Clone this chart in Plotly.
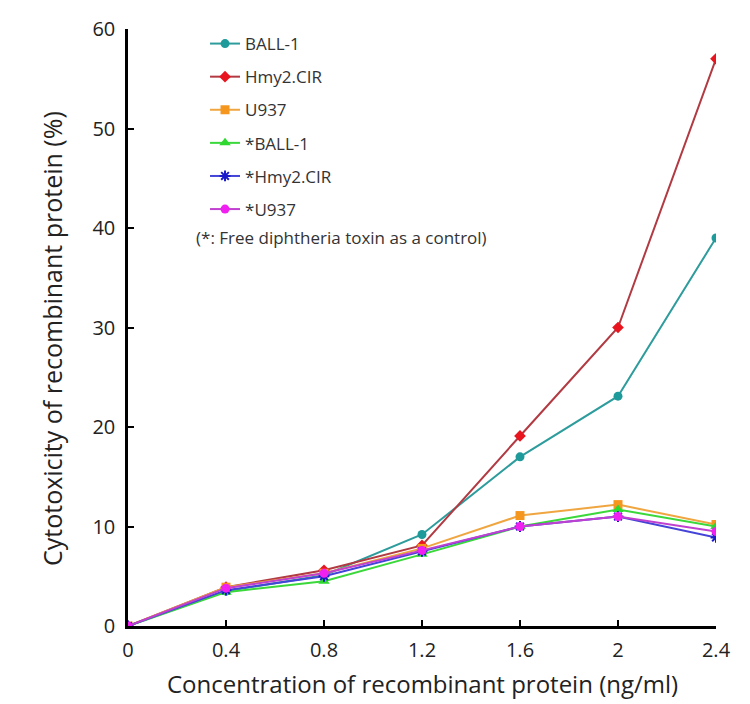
import plotly.graph_objects as go

concentration = [0, 0.4, 0.8, 1.2, 1.6, 2, 2.4]
ball1 = [0, 3.5, 5.1, 9.2, 17.0, 23.1, 39.0]
hmy2 = [0, 3.9, 5.6, 8.1, 19.1, 30.0, 57.0]
u937 = [0, 3.9, 5.3, 7.8, 11.1, 12.2, 10.2]
c_ball1 = [0, 3.4, 4.5, 7.2, 10.0, 11.7, 10.0]
c_hmy2 = [0, 3.6, 5.0, 7.5, 10.0, 11.0, 8.9]
c_u937 = [0, 3.8, 5.3, 7.6, 10.0, 11.0, 9.5]

series_names = ["BALL-1", "Hmy2.CIR", "U937", "*BALL-1", "*Hmy2.CIR", "*U937"]
series_values = [ball1, hmy2, u937, c_ball1, c_hmy2, c_u937]
line_colors = ["#2E9C9C", "#B23A42", "#F0A640", "#3AD83A", "#4444D8", "#C040D0"]
marker_colors = ["#1E9A9A", "#E8141E", "#F5961E", "#2ED82E", "#1A1AC8", "#F020F0"]
symbols = ["circle", "diamond", "square", "triangle-up", "asterisk-open", "circle"]
sizes = [9, 9, 9, 10, 9, 9]

font_family = "Open Sans, Noto Sans, sans-serif"

fig = go.Figure()
for i, (name, vals, lc, mc, sym, sz) in enumerate(zip(series_names, series_values, line_colors,
                                                      marker_colors, symbols, sizes)):
    fig.add_trace(go.Scatter(
        x=concentration, y=vals, name=name, mode="lines+markers",
        legendgroup=f"g{i}",
        line=dict(color=lc, width=2),
        marker=dict(symbol=sym, size=sz, color=mc,
                    line=dict(color=mc, width=2 if sym == "asterisk-open" else 0)),
    ))

fig.update_layout(
    width=750, height=704,
    margin=dict(l=120, r=42, t=21, b=86, autoexpand=False),
    paper_bgcolor="white", plot_bgcolor="white",
    font=dict(family=font_family, color="#222222"),
    showlegend=True,
    legend=dict(x=0.131, y=1.005, xanchor="left", yanchor="top",
                bgcolor="rgba(0,0,0,0)", font=dict(size=17, color="#333333"),
                tracegroupgap=8),
    annotations=[
        dict(text="(*: Free diphtheria toxin as a control)",
             xref="paper", yref="paper", x=0.112, y=0.650,
             xanchor="left", yanchor="middle", showarrow=False,
             font=dict(size=17, color="#333333", family=font_family)),
        dict(text="Cytotoxicity of recombinant protein (%)",
             xref="paper", yref="paper", x=-0.129, y=0.481,
             xanchor="center", yanchor="middle", showarrow=False, textangle=-90,
             font=dict(size=25, color="#222222", family=font_family)),
        dict(text="Concentration of recombinant protein (ng/ml)",
             xref="paper", yref="paper", x=0.5, y=-0.096,
             xanchor="center", yanchor="middle", showarrow=False,
             font=dict(size=24, color="#222222", family=font_family)),
    ],
)

fig.update_xaxes(
    range=[0, 2.4], tickvals=concentration,
    ticktext=["0", "0.4", "0.8", "1.2", "1.6", "2", "2.4"],
    showline=True, linecolor="black", linewidth=2.5,
    ticks="inside", ticklen=6, tickwidth=2, tickcolor="black",
    showgrid=False, zeroline=False, ticklabelstandoff=4,
    tickfont=dict(size=20, color="#222222"),
)
fig.update_yaxes(
    range=[0, 60], tickvals=[0, 10, 20, 30, 40, 50, 60],
    showline=True, linecolor="black", linewidth=2.5,
    ticks="inside", ticklen=6, tickwidth=2, tickcolor="black",
    showgrid=False, zeroline=False, ticklabelstandoff=6,
    tickfont=dict(size=20, color="#222222"),
)

fig.write_html("out.html")
